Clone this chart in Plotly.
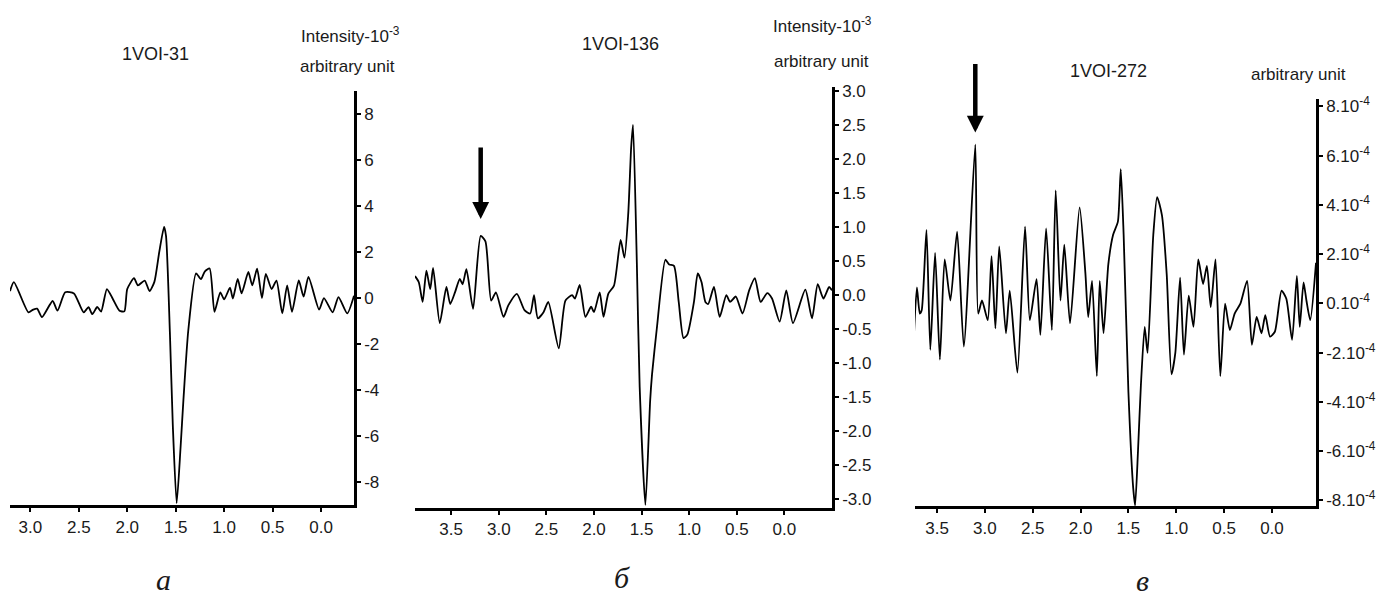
import plotly.graph_objects as go
import numpy as np

W, H = 1396, 599

# ---------------- data ----------------
# Panel a: 1VOI-31 (intensity, 10^-3 arb. units)
xa = [3.21,3.17,3.02,2.97,2.93,2.88,2.77,2.72,2.64,2.55,2.45,2.40,2.36,2.31,2.27,2.21,2.15,2.08,2.03,2.00,
      1.93,1.89,1.82,1.77,1.72,1.67,1.62,1.60,1.56,1.53,1.49,1.45,1.42,1.37,1.29,1.24,1.20,1.15,1.10,1.04,
      1.00,0.94,0.91,0.86,0.82,0.75,0.71,0.66,0.61,0.57,0.51,0.46,0.40,0.35,0.30,0.23,0.18,0.13,0.02,-0.03,
      -0.12,-0.18,-0.27,-0.34]
ya = [0.3,0.69,-0.62,-0.5,-0.46,-0.83,-0.13,-0.55,0.25,0.2,-0.62,-0.4,-0.7,-0.39,-0.59,0.39,-0.03,-0.55,-0.58,0.39,
      0.86,0.55,0.76,0.3,0.7,1.99,3.09,2.7,-1.5,-5.5,-8.9,-6.5,-4.4,-1.4,1.07,0.82,1.15,1.28,-0.6,0.25,
      -0.06,0.45,-0.02,0.83,0.2,1.13,0.55,1.27,0.0,1.05,0.39,0.76,-0.67,0.55,-0.6,0.76,0.06,0.92,-0.5,0.0,
      -0.62,0.04,-0.67,0.1]

# Panel б: 1VOI-136 (intensity, 10^-3 arb. units)
xb = [3.88,3.84,3.80,3.76,3.72,3.69,3.62,3.55,3.51,3.46,3.41,3.38,3.34,3.27,3.19,3.14,3.08,3.03,2.95,2.90,
      2.81,2.73,2.67,2.63,2.59,2.53,2.48,2.37,2.30,2.23,2.20,2.15,2.09,2.03,2.00,1.94,1.90,1.85,1.79,1.72,
      1.68,1.64,1.61,1.59,1.55,1.52,1.46,1.41,1.39,1.34,1.25,1.21,1.16,1.11,1.06,1.02,0.95,0.91,0.87,0.83,
      0.80,0.74,0.68,0.61,0.57,0.51,0.44,0.37,0.31,0.25,0.18,0.13,0.05,-0.02,-0.09,-0.22,-0.29,-0.35,-0.41,-0.47,
      -0.50]
yb = [0.28,0.19,-0.10,0.36,0.09,0.40,-0.41,0.12,-0.13,0.04,0.24,0.16,0.38,-0.20,0.87,0.79,-0.08,0.04,-0.32,-0.15,
      0.02,-0.22,-0.27,0.0,-0.34,-0.25,-0.10,-0.78,-0.08,0.0,-0.05,0.15,-0.32,-0.17,-0.25,0.04,-0.32,0.02,0.14,0.81,
      0.55,1.20,2.16,2.50,0.48,-1.35,-3.08,-1.55,-1.16,-0.49,0.52,0.45,0.43,-0.10,-0.63,-0.58,-0.10,0.32,0.19,-0.10,
      -0.13,0.12,-0.32,0.0,-0.10,-0.02,-0.27,0.07,0.25,-0.10,0.03,-0.05,-0.39,0.07,-0.41,0.08,-0.34,0.16,-0.05,0.12,
      0.07]

# Panel в: 1VOI-272 (arb. units, 10^-4)
xc = [3.74,3.71,3.68,3.66,3.61,3.57,3.52,3.47,3.42,3.36,3.29,3.22,3.10,3.07,3.03,2.97,2.93,2.89,2.85,2.78,
      2.74,2.66,2.58,2.53,2.46,2.42,2.36,2.30,2.26,2.21,2.17,2.11,2.01,1.95,1.92,1.88,1.83,1.80,1.76,1.71,
      1.66,1.61,1.58,1.55,1.50,1.45,1.43,1.40,1.37,1.33,1.30,1.24,1.20,1.15,1.10,1.05,1.01,0.96,0.92,0.87,
      0.82,0.77,0.72,0.68,0.64,0.59,0.54,0.49,0.44,0.39,0.33,0.26,0.21,0.16,0.11,0.07,0.02,-0.03,-0.10,-0.15,
      -0.21,-0.26,-0.29,-0.33,-0.36,-0.40,-0.46]
yc = [-1.21,0.65,-0.41,-0.28,2.99,-1.88,2.05,-2.28,1.79,0.12,2.92,-1.75,6.45,-0.41,0.12,-0.68,1.92,-1.01,2.32,-1.21,
      0.52,-2.81,3.12,-0.68,0.99,-1.28,3.05,-1.08,4.59,0.12,2.39,-0.81,3.9,1.25,-0.55,0.92,-2.95,0.92,-1.21,1.59,
      2.79,3.32,5.45,2.8,-3.61,-7.5,-8.2,-6.0,-3.35,-0.95,-2.01,2.79,4.32,3.59,1.19,-2.88,-2.01,1.05,-2.08,0.32,
      -0.95,1.79,0.79,1.52,-0.15,1.79,-2.95,-0.01,-1.08,-0.41,-0.01,0.92,-1.68,-0.55,-1.21,-0.48,-1.35,-1.15,0.52,0.19,
      -1.48,1.12,-0.95,0.85,0.12,-0.68,1.65]

x_ticks_a = [3.0, 2.5, 2.0, 1.5, 1.0, 0.5, 0.0]
x_ticks_bc = [3.5, 3.0, 2.5, 2.0, 1.5, 1.0, 0.5, 0.0]
y_ticks_a = [-8, -6, -4, -2, 0, 2, 4, 6, 8]
y_ticks_b = [-3.0, -2.5, -2.0, -1.5, -1.0, -0.5, 0.0, 0.5, 1.0, 1.5, 2.0, 2.5, 3.0]
y_ticks_c = [-8, -6, -4, -2, 0, 2, 4, 6, 8]
y_text_c = [f"{v}.10<sup>-4</sup>" for v in y_ticks_c]

titles = ["1VOI-31", "1VOI-136", "1VOI-272"]
panel_labels = ["а", "б", "в"]

# ---------------- layout helpers ----------------
def px_x(p):
    return p / W

def px_y(p):
    return 1 - p / H

FONT = "Liberation Sans, Arial, sans-serif"
TXT = "#1a1a1a"

fig = go.Figure()
line_style = dict(color="black", width=1.8, shape="spline", smoothing=0.6)
fig.add_trace(go.Scatter(x=xa, y=ya, mode="lines", line=line_style, xaxis="x", yaxis="y", showlegend=False))
fig.add_trace(go.Scatter(x=xb, y=yb, mode="lines", line=line_style, xaxis="x2", yaxis="y2", showlegend=False))
fig.add_trace(go.Scatter(x=xc, y=yc, mode="lines", line=line_style, xaxis="x3", yaxis="y3", showlegend=False))

def xaxis(dom, rng, ticks, yanchor):
    return dict(domain=dom, range=rng, anchor=yanchor, tickvals=ticks,
                ticktext=[f"{t:.1f}" for t in ticks], showline=True, linecolor="black",
                linewidth=2.5, ticks="outside", ticklen=4, tickwidth=2, tickcolor="black",
                showgrid=False, zeroline=False, tickfont=dict(family=FONT, size=17, color=TXT))

def yaxis(dom, rng, ticks, text, xanchor):
    return dict(domain=dom, range=rng, anchor=xanchor, side="right", tickvals=ticks,
                ticktext=text, showline=True, linecolor="black", linewidth=2.5,
                ticks="outside", ticklen=4, tickwidth=2, tickcolor="black",
                showgrid=False, zeroline=False, tickfont=dict(family=FONT, size=17, color=TXT))

fig.update_layout(
    width=W, height=H, margin=dict(l=0, r=0, t=0, b=0),
    paper_bgcolor="white", plot_bgcolor="white",
    xaxis=xaxis([px_x(10), px_x(354)], [3.21, -0.34], x_ticks_a, "y"),
    yaxis=yaxis([px_y(508), px_y(87)], [-9.0, 9.0], y_ticks_a, [str(v) for v in y_ticks_a], "x"),
    xaxis2=xaxis([px_x(415), px_x(832)], [3.88, -0.50], x_ticks_bc, "y2"),
    yaxis2=yaxis([px_y(511), px_y(83)], [-3.13, 3.06], y_ticks_b, [f"{v:.1f}" for v in y_ticks_b], "x2"),
    xaxis3=xaxis([px_x(915), px_x(1316)], [3.73, -0.46], x_ticks_bc, "y3"),
    yaxis3=yaxis([px_y(509), px_y(95)], [-8.24, 8.32], y_ticks_c, y_text_c, "x3"),
)

def txt(s, x, y, size=16, family=FONT, italic=False):
    t = f"<i>{s}</i>" if italic else s
    fig.add_annotation(text=t, x=px_x(x), y=px_y(y), xref="paper", yref="paper",
                       showarrow=False, xanchor="center", yanchor="middle",
                       font=dict(family=family, size=size, color=TXT))

txt(titles[0], 155, 50, 18)
txt("Intensity-10<sup>-3</sup>", 350, 30, 17)
txt("arbitrary unit", 347, 62, 17)
txt(titles[1], 620, 40, 18)
txt("Intensity-10<sup>-3</sup>", 822, 20, 17)
txt("arbitrary unit", 821, 57, 17)
txt(titles[2], 1108, 67, 18)
txt("arbitrary unit", 1298, 71, 17)

serif = "Liberation Serif, Times New Roman, serif"
txt(panel_labels[0], 163, 583, 30, serif, True)
txt(panel_labels[1], 622, 581, 30, serif, True)
txt(panel_labels[2], 1142, 584, 30, serif, True)

# arrows pointing at the marked peaks
ib = int(np.argmax(np.where(np.array(xb) > 2.8, yb, -99)))
ic = int(np.argmax(np.where(np.array(xc) > 2.8, yc, -99)))
fig.add_annotation(x=xb[ib], y=yb[ib], xref="x2", yref="y2", text="", showarrow=True,
                   ax=0, ay=-90, arrowhead=2, arrowsize=0.75, arrowwidth=4.5,
                   arrowcolor="black", standoff=17)
fig.add_annotation(x=xc[ic], y=yc[ic], xref="x3", yref="y3", text="", showarrow=True,
                   ax=0, ay=-82, arrowhead=2, arrowsize=0.75, arrowwidth=4.5,
                   arrowcolor="black", standoff=12)

fig.write_html("out.html")
